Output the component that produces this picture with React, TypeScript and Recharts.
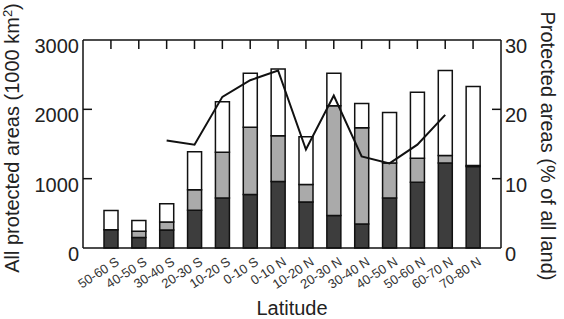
import { ComposedChart, Bar, Line, XAxis, YAxis } from 'recharts';

const latitudes = [
  '50-60 S', '40-50 S', '30-40 S', '20-30 S', '10-20 S', '0-10 S', '0-10 N',
  '10-20 N', '20-30 N', '30-40 N', '40-50 N', '50-60 N', '60-70 N', '70-80 N',
];

// stacked segments, 1000 km2
const darkPart = [265, 150, 260, 545, 720, 770, 960, 665, 470, 345, 720, 950, 1225, 1175];
const grayPart = [0, 90, 115, 295, 660, 970, 660, 250, 1580, 1390, 505, 345, 110, 15];
const whitePart = [275, 155, 265, 550, 730, 780, 960, 690, 470, 350, 730, 950, 1225, 1140];

// % of all land
const pctLand = [null, null, 15.5, 14.9, 21.8, 24.2, 25.6, 14.2, 22.0, 13.2, 12.2, 14.9, 19.2, null];

const leftTicks = [0, 1000, 2000, 3000];
const rightTicks = [0, 10, 20, 30];

const data = latitudes.map((name, i) => ({
  name,
  dark: darkPart[i],
  gray: grayPart[i],
  white: whitePart[i],
  pct: pctLand[i],
}));

const FONT = '"Liberation Sans", Arial, sans-serif';

const BottomTick = ({ x, y, payload }: any) => (
  <text
    x={x + 9}
    y={y + 16}
    transform={`rotate(-33, ${x + 9}, ${y + 16})`}
    textAnchor="end"
    fontSize={13}
    fontFamily={FONT}
    fill="#333"
  >
    {payload.value}
  </text>
);

const TopTick = ({ x, y }: any) => (
  <line x1={x} x2={x} y1={y} y2={y + 9} stroke="#111" strokeWidth={1.5} />
);

const LeftTick = ({ x, y, payload }: any) => (
  <g>
    {payload.value > 0 && payload.value < 3000 && (
      <line x1={x} x2={x + 9} y1={y} y2={y} stroke="#111" strokeWidth={1.5} />
    )}
    <text x={x - 4} y={y + 13} textAnchor="end" fontSize={20} fontFamily={FONT} fill="#222">
      {payload.value}
    </text>
  </g>
);

const RightTick = ({ x, y, payload }: any) => (
  <g>
    {payload.value > 0 && payload.value < 30 && (
      <line x1={x - 9} x2={x} y1={y} y2={y} stroke="#111" strokeWidth={1.5} />
    )}
    <text x={x + 4} y={y + 13} textAnchor="start" fontSize={20} fontFamily={FONT} fill="#222">
      {payload.value}
    </text>
  </g>
);

export default function App() {
  return (
    <div style={{ position: 'absolute', left: 0, top: 0, background: '#fff' }}>
      <ComposedChart
        width={564}
        height={319}
        data={data}
        margin={{ top: 30, right: 0, left: 0, bottom: 0 }}
      >
        <XAxis
          xAxisId="bottom"
          dataKey="name"
          padding={{ left: 14, right: 14 }}
          height={71}
          interval={0}
          tickLine={false}
          tickSize={0}
          tickMargin={0}
          axisLine={{ stroke: '#111', strokeWidth: 1.5 }}
          tick={<BottomTick />}
          label={{
            content: () => (
              <text x={292} y={315} textAnchor="middle" fontSize={20} fontFamily={FONT} fill="#222">
                Latitude
              </text>
            ),
          }}
        />
        <XAxis
          xAxisId="top"
          orientation="top"
          dataKey="name"
          padding={{ left: 14, right: 14 }}
          height={10}
          interval={0}
          tickLine={false}
          tickSize={0}
          tickMargin={0}
          axisLine={{ stroke: '#111', strokeWidth: 1.5 }}
          tick={<TopTick />}
        />
        <YAxis
          yAxisId="left"
          width={83}
          domain={[0, 3000]}
          ticks={leftTicks}
          tickLine={false}
          tickSize={0}
          tickMargin={0}
          axisLine={{ stroke: '#111', strokeWidth: 1.5 }}
          tick={<LeftTick />}
          label={{
            content: () => (
              <text
                x={19}
                y={138}
                transform="rotate(-90, 19, 138)"
                textAnchor="middle"
                fontSize={20}
                fontFamily={FONT}
                fill="#222"
              >
                All protected areas (1000 km<tspan dy={-7} fontSize={13}>2</tspan>
                <tspan dy={7}>)</tspan>
              </text>
            ),
          }}
        />
        <YAxis
          yAxisId="right"
          orientation="right"
          width={63}
          domain={[0, 30]}
          ticks={rightTicks}
          tickLine={false}
          tickSize={0}
          tickMargin={0}
          axisLine={{ stroke: '#111', strokeWidth: 1.5 }}
          tick={<RightTick />}
          label={{
            content: () => (
              <text
                x={541}
                y={146}
                transform="rotate(90, 541, 146)"
                textAnchor="middle"
                fontSize={20}
                fontFamily={FONT}
                fill="#222"
              >
                Protected areas (% of all land)
              </text>
            ),
          }}
        />
        <Bar xAxisId="bottom" yAxisId="left" dataKey="dark" stackId="a" barSize={14} fill="#3d3d3d" stroke="#111" strokeWidth={1.5} isAnimationActive={false} />
        <Bar xAxisId="bottom" yAxisId="left" dataKey="gray" stackId="a" barSize={14} fill="#aaaaaa" stroke="#111" strokeWidth={1.5} isAnimationActive={false} />
        <Bar xAxisId="bottom" yAxisId="left" dataKey="white" stackId="a" barSize={14} fill="#ffffff" stroke="#111" strokeWidth={1.5} isAnimationActive={false} />
        <Line xAxisId="bottom" yAxisId="right" dataKey="pct" stroke="#111" strokeWidth={2} dot={false} isAnimationActive={false} />
      </ComposedChart>
    </div>
  );
}
